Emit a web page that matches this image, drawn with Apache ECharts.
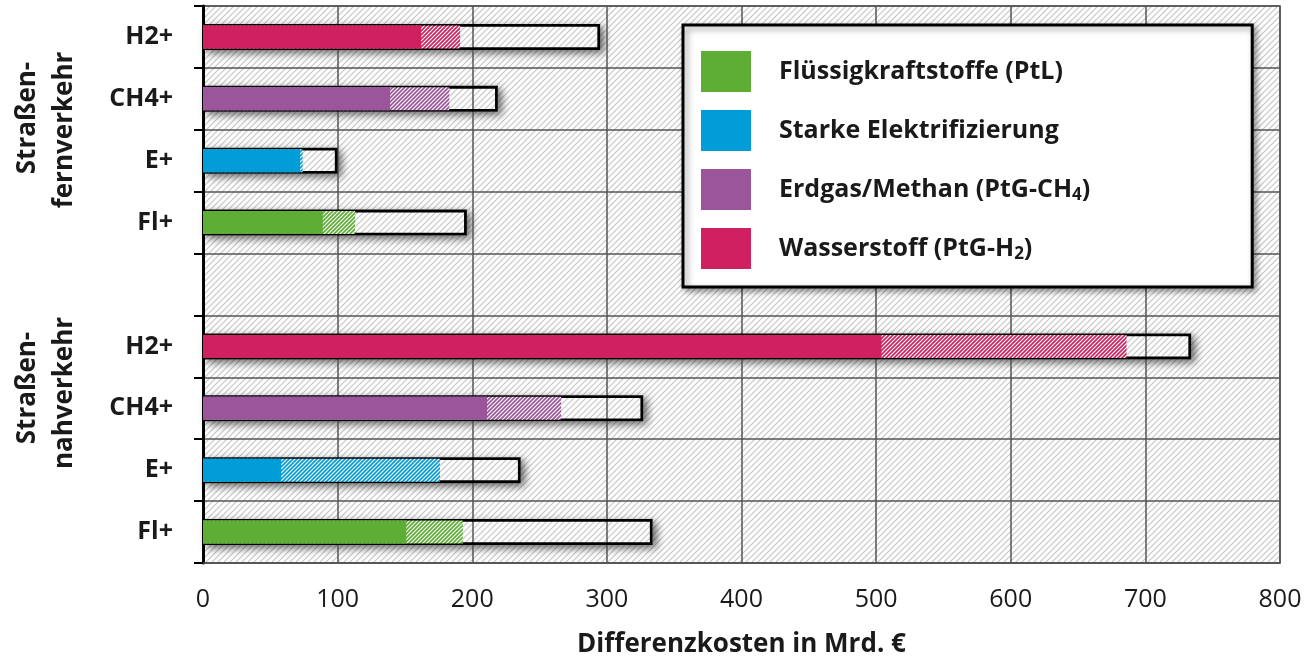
<!DOCTYPE html>
<html>
<head>
<meta charset="utf-8">
<title>Differenzkosten</title>
<script src="https://cdn.jsdelivr.net/npm/echarts@6/dist/echarts.min.js"></script>
<style>
  html, body { margin: 0; padding: 0; background: #fff; }
  #chart { width: 1307px; height: 663px; }
</style>
</head>
<body>
<div id="chart"></div>
<script>
// Rows from top to bottom: long-distance road transport, spacer row, short-distance road transport
const categories = ['H2+', 'CH4+', 'E+', 'Fl+', '', 'H2+', 'CH4+', 'E+', 'Fl+'];
const rowTech = ['h2', 'ch4', 'e', 'fl', null, 'h2', 'ch4', 'e', 'fl'];

// Differenzkosten in Mrd. € per row
const solidValues  = [162, 139, 72, 89, null, 504, 211, 58, 151];
const hatchedEnds  = [191, 183, 74, 113, null, 686, 266, 176, 193];
const totalValues  = [295, 219, 100, 196, null, 734, 327, 236, 334];

const xTicks = [0, 100, 200, 300, 400, 500, 600, 700, 800];

const techOrder = ['fl', 'e', 'ch4', 'h2'];
const techNames = {
  fl: 'Flüssigkraftstoffe (PtL)',
  e: 'Starke Elektrifizierung',
  ch4: 'Erdgas/Methan (PtG-CH4)',
  h2: 'Wasserstoff (PtG-H2)'
};
const techLegendText = {
  fl: 'Flüssigkraftstoffe (PtL)',
  e: 'Starke Elektrifizierung',
  ch4: 'Erdgas/Methan (PtG-CH{sub|4})',
  h2: 'Wasserstoff (PtG-H{sub|2})'
};
const techColors = { fl: '#5EAE36', e: '#009DD8', ch4: '#9B569B', h2: '#CF2160' };

const groupLabels = [
  { lines: ['Straßen-', 'fernverkehr'], y: [118, 130] },
  { lines: ['Straßen-', 'nahverkehr'], y: [388, 393] }
];

// Diagonal "/" stripe tile used as a repeating fill
function stripeTile(color, period, lineWidth) {
  const c = document.createElement('canvas');
  c.width = c.height = period;
  const g = c.getContext('2d');
  g.fillStyle = '#ffffff';
  g.fillRect(0, 0, period, period);
  g.strokeStyle = color;
  g.lineWidth = lineWidth;
  g.beginPath();
  g.moveTo(-1, 1); g.lineTo(1, -1);
  g.moveTo(0, period); g.lineTo(period, 0);
  g.moveTo(period - 1, period + 1); g.lineTo(period + 1, period - 1);
  g.stroke();
  return c;
}

const bgPattern = { image: stripeTile('#c6c6c6', 6, 1.2), repeat: 'repeat' };
const hatchPatterns = {};
techOrder.forEach(t => { hatchPatterns[t] = { image: stripeTile(techColors[t], 4, 1.7), repeat: 'repeat' }; });

const FONT = '"Open Sans"';

function itemsFrom(values, styleFor) {
  return values.map((v, i) => {
    if (v == null) return '-';
    return { value: v, itemStyle: styleFor(rowTech[i]) };
  });
}

const chart = echarts.init(document.getElementById('chart'), null, { renderer: 'canvas' });

const legendSeries = techOrder.map(t => ({
  name: techNames[t],
  type: 'bar',
  yAxisIndex: 0,
  barWidth: 23,
  barGap: '-100%',
  data: [],
  itemStyle: { color: techColors[t] }
}));

const option = {
  animation: false,
  grid: {
    left: 203, right: 27, top: 6, bottom: 100,
    show: true,
    backgroundColor: bgPattern,
    borderColor: '#555',
    borderWidth: 1.5,
    z: 0
  },
  xAxis: {
    type: 'value',
    min: 0, max: 800, interval: 100,
    z: 2,
    axisLine: { show: true, lineStyle: { color: '#555', width: 1.5 } },
    axisTick: { show: false },
    splitLine: { show: true, lineStyle: { color: '#555', width: 1.5 } },
    axisLabel: {
      margin: 24,
      fontFamily: FONT, fontSize: 25, color: '#1a1a1a',
      formatter: v => (xTicks.indexOf(v) >= 0 ? String(v) : '')
    },
    name: 'Differenzkosten in Mrd. €',
    nameLocation: 'middle',
    nameGap: 69,
    nameTextStyle: { fontFamily: FONT, fontWeight: 'bold', fontSize: 26, color: '#1a1a1a' }
  },
  yAxis: [
    {
      type: 'category',
      data: categories,
      inverse: true,
      z: 2,
      axisLine: { show: true, lineStyle: { color: '#000', width: 3 } },
      axisTick: { show: true, interval: 0, length: 9, lineStyle: { color: '#000', width: 2 } },
      splitLine: { show: true, interval: 0, lineStyle: { color: '#555', width: 1.5 } },
      axisLabel: {
        interval: 0, margin: 30,
        fontFamily: FONT, fontWeight: 'bold', fontSize: 25, color: '#1a1a1a'
      }
    },
    {
      type: 'category',
      data: categories,
      inverse: true,
      show: false
    }
  ],
  legend: {
    orient: 'vertical',
    left: 683, top: 25,
    z: 10,
    selectedMode: false,
    icon: 'rect',
    itemWidth: 50, itemHeight: 41, itemGap: 18,
    padding: [26, 162, 18, 18],
    backgroundColor: '#fff',
    borderColor: '#000',
    borderWidth: 3,
    shadowBlur: 6, shadowColor: 'rgba(0,0,0,0.4)', shadowOffsetX: 3, shadowOffsetY: 3,
    data: techOrder.map(t => techNames[t]),
    formatter: name => {
      const t = techOrder.find(k => techNames[k] === name);
      return '{gap|}' + techLegendText[t];
    },
    textStyle: {
      fontFamily: FONT, fontWeight: 'bold', fontSize: 25, color: '#1a1a1a',
      rich: {
        gap: { width: 23 },
        sub: { fontFamily: FONT, fontWeight: 'bold', fontSize: 17, color: '#1a1a1a', padding: [12, 0, 0, 0] }
      }
    }
  },
  graphic: groupLabels.flatMap(g => g.lines.map((line, k) => ({
    type: 'text',
    x: k === 0 ? 28 : 65,
    y: g.y[k],
    rotation: Math.PI / 2,
    silent: true,
    style: {
      text: line,
      font: 'bold 26px ' + FONT,
      fill: '#1a1a1a',
      align: 'center', verticalAlign: 'middle',
      textAlign: 'center', textVerticalAlign: 'middle'
    }
  }))),
  series: [
    // soft shadow behind each total box (same fill as the plot background)
    {
      type: 'bar', name: 'shadow', yAxisIndex: 1, z: 1, silent: true,
      barWidth: 26, barGap: '-100%',
      data: totalValues.map(v => (v == null ? '-' : v)),
      itemStyle: {
        color: bgPattern,
        shadowBlur: 8, shadowColor: 'rgba(0,0,0,0.6)', shadowOffsetX: 4, shadowOffsetY: 3
      }
    },
    // outlined total box
    {
      type: 'bar', name: 'total', yAxisIndex: 1, z: 3, silent: true,
      barWidth: 26, barGap: '-100%',
      data: totalValues.map(v => (v == null ? '-' : v)),
      itemStyle: { color: 'rgba(0,0,0,0)', borderColor: '#000', borderWidth: 2.8 }
    },
    // hatched range
    {
      type: 'bar', name: 'hatched', yAxisIndex: 0, z: 4, silent: true,
      barWidth: 23, barGap: '-100%',
      data: itemsFrom(hatchedEnds, t => ({ color: hatchPatterns[t] }))
    },
    // solid range
    {
      type: 'bar', name: 'solid', yAxisIndex: 0, z: 4, silent: true,
      barWidth: 23, barGap: '-100%',
      data: itemsFrom(solidValues, t => ({ color: techColors[t] }))
    },
    ...legendSeries
  ]
};

chart.setOption(option);
</script>
</body>
</html>
